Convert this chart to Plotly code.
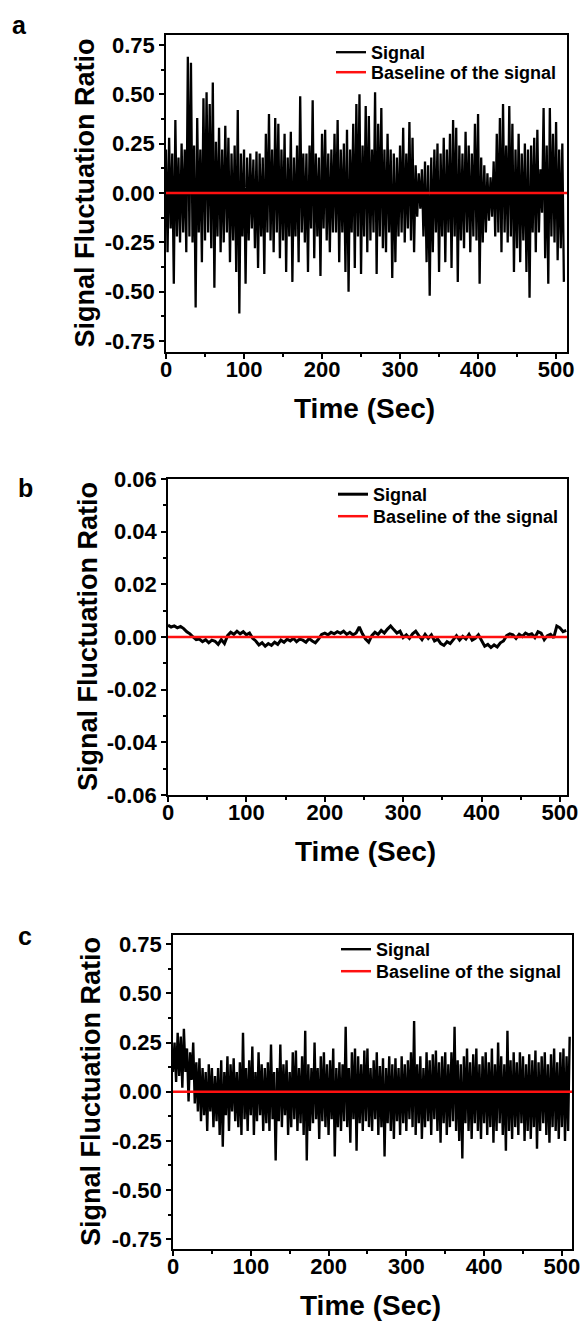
import plotly.graph_objects as go

# ---------------- data ----------------
sample_step_a = 2   # seconds between samples
signal_a = [
    0.22, -0.30, 0.28, -0.18, 0.20, -0.46, 0.37, -0.22, 0.18, -0.25,
    0.25, -0.20, 0.22, -0.30, 0.69, -0.22, 0.66, -0.25, 0.24, -0.58,
    0.38, -0.20, 0.22, -0.35, 0.48, -0.24, 0.51, -0.20, 0.45, -0.28,
    0.56, -0.48, 0.26, -0.22, 0.33, -0.30, 0.22, -0.25, 0.34, -0.20,
    0.28, -0.35, 0.20, -0.24, 0.24, -0.40, 0.42, -0.61, 0.20, -0.22,
    0.22, -0.46, 0.18, -0.24, 0.20, -0.18, 0.17, -0.28, 0.21, -0.38,
    0.20, -0.22, 0.18, -0.41, 0.30, -0.20, 0.40, -0.24, 0.22, -0.30,
    0.38, -0.20, 0.35, -0.33, 0.22, -0.24, 0.30, -0.40, 0.18, -0.22,
    0.31, -0.45, 0.18, -0.22, 0.24, -0.35, 0.49, -0.20, 0.20, -0.25,
    0.20, -0.40, 0.24, -0.18, 0.47, -0.33, 0.20, -0.22, 0.18, -0.42,
    0.30, -0.18, 0.32, -0.24, 0.20, -0.30, 0.22, -0.20, 0.30, -0.20,
    0.37, -0.35, 0.22, -0.20, 0.25, -0.40, 0.32, -0.50, 0.22, -0.20,
    0.35, -0.38, 0.45, -0.22, 0.50, -0.41, 0.24, -0.22, 0.44, -0.30,
    0.39, -0.24, 0.22, -0.20, 0.51, -0.41, 0.35, -0.22, 0.43, -0.28,
    0.22, -0.30, 0.30, -0.20, 0.22, -0.43, 0.20, -0.35, 0.18, -0.22,
    0.24, -0.20, 0.33, -0.25, 0.20, -0.18, 0.36, -0.24, 0.28, -0.30,
    0.14, -0.12, 0.10, -0.08, 0.12, -0.22, 0.16, -0.35, 0.14, -0.52,
    0.18, -0.30, 0.22, -0.20, 0.25, -0.40, 0.20, -0.22, 0.28, -0.35,
    0.22, -0.20, 0.30, -0.38, 0.37, -0.22, 0.33, -0.45, 0.24, -0.24,
    0.20, -0.28, 0.31, -0.20, 0.24, -0.30, 0.20, -0.22, 0.35, -0.24,
    0.40, -0.46, 0.18, -0.25, 0.14, -0.20, 0.10, -0.14, 0.08, -0.12,
    0.16, -0.22, 0.30, -0.20, 0.38, -0.30, 0.45, -0.20, 0.24, -0.25,
    0.44, -0.22, 0.35, -0.40, 0.22, -0.28, 0.30, -0.35, 0.20, -0.24,
    0.25, -0.40, 0.22, -0.53, 0.24, -0.20, 0.28, -0.30, 0.32, -0.20,
    0.12, -0.10, 0.43, -0.33, 0.24, -0.46, 0.43, -0.22, 0.30, -0.25,
    0.36, -0.34, 0.22, -0.28, 0.25, -0.45,
]

sample_step_b = 4
signal_b = [
    0.0045, 0.0038, 0.0042, 0.0035, 0.0040, 0.0032, 0.0020, 0.0012, 0.0000, -0.0010,
    -0.0008, -0.0018, -0.0010, -0.0022, -0.0012, -0.0016, -0.0028, -0.0010, -0.0025, 0.0005,
    0.0018, 0.0010, 0.0022, 0.0012, 0.0020, 0.0008, 0.0015, -0.0005, -0.0015, -0.0030,
    -0.0022, -0.0035, -0.0025, -0.0032, -0.0020, -0.0028, -0.0012, -0.0020, -0.0008, -0.0015,
    -0.0005, -0.0018, -0.0008, -0.0012, -0.0020, -0.0006, -0.0015, -0.0022, -0.0008, 0.0010,
    0.0015, 0.0008, 0.0018, 0.0012, 0.0020, 0.0014, 0.0022, 0.0010, 0.0018, 0.0008,
    0.0015, 0.0038, 0.0012, -0.0008, -0.0020, 0.0005, 0.0018, 0.0010, 0.0025, 0.0015,
    0.0030, 0.0042, 0.0028, 0.0015, 0.0022, -0.0002, 0.0008, -0.0005, 0.0012, 0.0022,
    0.0005, -0.0010, 0.0010, -0.0005, 0.0008, -0.0015, -0.0008, -0.0025, -0.0032, -0.0018,
    -0.0025, -0.0010, 0.0005, -0.0012, 0.0002, -0.0008, 0.0010, -0.0012, -0.0005, 0.0008,
    -0.0015, -0.0035, -0.0028, -0.0040, -0.0030, -0.0038, -0.0022, -0.0015, 0.0005, 0.0012,
    0.0008, -0.0005, 0.0010, 0.0002, 0.0015, 0.0008, 0.0012, -0.0002, 0.0020, 0.0015,
    -0.0010, 0.0005, 0.0010, -0.0003, 0.0042, 0.0035, 0.0020, 0.0025,
]

sample_step_c = 2
signal_c = [
    0.10, 0.25, 0.05, 0.30, 0.08, 0.28, 0.02, 0.32, 0.10, 0.22,
    -0.05, 0.20, 0.06, 0.25, -0.06, 0.15, -0.10, 0.17, -0.15, 0.12,
    -0.12, 0.10, -0.20, 0.14, -0.10, 0.12, -0.18, 0.08, -0.15, 0.12,
    -0.22, 0.16, -0.28, 0.10, -0.12, 0.18, -0.20, 0.14, -0.10, 0.17,
    -0.15, 0.10, -0.18, 0.15, -0.22, 0.30, -0.14, 0.12, -0.20, 0.16,
    -0.12, 0.23, -0.22, 0.10, -0.15, 0.20, -0.12, 0.14, -0.20, 0.12,
    -0.16, 0.15, -0.20, 0.24, -0.14, 0.10, -0.35, 0.12, -0.15, 0.24,
    -0.18, 0.14, -0.12, 0.16, -0.22, 0.10, -0.18, 0.20, -0.14, 0.21,
    -0.20, 0.12, -0.16, 0.18, -0.22, 0.31, -0.35, 0.14, -0.20, 0.12,
    -0.16, 0.25, -0.14, 0.12, -0.24, 0.18, -0.15, 0.20, -0.18, 0.14,
    -0.22, 0.16, -0.14, 0.22, -0.33, 0.12, -0.18, 0.15, -0.20, 0.14,
    -0.15, 0.33, -0.18, 0.12, -0.26, 0.20, -0.14, 0.22, -0.30, 0.18,
    -0.16, 0.14, -0.20, 0.21, -0.15, 0.22, -0.18, 0.12, -0.20, 0.16,
    -0.14, 0.20, -0.22, 0.13, -0.18, 0.17, -0.33, 0.12, -0.16, 0.18,
    -0.20, 0.14, -0.24, 0.17, -0.15, 0.12, -0.22, 0.18, -0.16, 0.14,
    -0.20, 0.16, -0.14, 0.20, -0.18, 0.36, -0.22, 0.14, -0.16, 0.18,
    -0.24, 0.12, -0.18, 0.20, -0.15, 0.16, -0.22, 0.19, -0.14, 0.21,
    -0.20, 0.15, -0.26, 0.18, -0.16, 0.20, -0.22, 0.14, -0.18, 0.20,
    -0.15, 0.33, -0.20, 0.16, -0.25, 0.14, -0.34, 0.18, -0.16, 0.22,
    -0.20, 0.15, -0.24, 0.19, -0.16, 0.22, -0.20, 0.14, -0.24, 0.18,
    -0.16, 0.20, -0.22, 0.15, -0.18, 0.22, -0.26, 0.14, -0.20, 0.25,
    -0.16, 0.18, -0.22, 0.14, -0.30, 0.31, -0.20, 0.16, -0.24, 0.20,
    -0.18, 0.15, -0.22, 0.20, -0.16, 0.18, -0.25, 0.14, -0.20, 0.19,
    -0.24, 0.16, -0.18, 0.21, -0.29, 0.15, -0.20, 0.18, -0.16, 0.20,
    -0.22, 0.14, -0.26, 0.19, -0.18, 0.22, -0.20, 0.15, -0.24, 0.20,
    -0.18, 0.22, -0.25, 0.18, -0.20, 0.28,
]

baseline_value = 0.0
time_end = 514

yticks_ac = [-0.75, -0.50, -0.25, 0.00, 0.25, 0.50, 0.75]
yticktext_ac = ["-0.75", "-0.50", "-0.25", "0.00", "0.25", "0.50", "0.75"]
yminor_ac = [-0.625, -0.375, -0.125, 0.125, 0.375, 0.625]
yticks_b = [-0.06, -0.04, -0.02, 0.00, 0.02, 0.04, 0.06]
yticktext_b = ["-0.06", "-0.04", "-0.02", "0.00", "0.02", "0.04", "0.06"]
yminor_b = [-0.05, -0.03, -0.01, 0.01, 0.03, 0.05]
xticks = [0, 100, 200, 300, 400, 500]
xminor = [50, 150, 250, 350, 450]

legend_names = ["Signal", "Baseline of the signal"]
panel_letters = ["a", "b", "c"]
x_title = "Time (Sec)"
y_title = "Signal Fluctuation Ratio"

# ---------------- layout helpers ----------------
W, H = 583, 1323
FONT = "Liberation Sans, Arial, sans-serif"


def fx(px):
    return px / W


def fy(py):
    return 1 - py / H


panels = [
    dict(box=(166, 567, 35, 352), xr=[0, 514], yr=[-0.805, 0.80],
         sig=signal_a, step=sample_step_a, lw=2.3,
         yt=yticks_ac, ytt=yticktext_ac, ym=yminor_ac,
         leg=(331, 34, 54), ytitle_x=84, letter=(19, 25)),
    dict(box=(168, 567, 479, 795), xr=[0, 509], yr=[-0.06, 0.06],
         sig=signal_b, step=sample_step_b, lw=3.0,
         yt=yticks_b, ytt=yticktext_b, ym=yminor_b,
         leg=(333, 476, 498), ytitle_x=88, letter=(25, 488)),
    dict(box=(173, 572, 935, 1249), xr=[0, 513], yr=[-0.80, 0.797],
         sig=signal_c, step=sample_step_c, lw=2.4,
         yt=yticks_ac, ytt=yticktext_ac, ym=yminor_ac,
         leg=(336, 931, 953), ytitle_x=91, letter=(25, 936)),
]

fig = go.Figure()
annotations = []
layout_axes = {}
legend_count = 0

for i, p in enumerate(panels):
    n = "" if i == 0 else str(i + 1)
    xa, ya = "x" + n, "y" + n
    lg_sig = "legend" + ("" if legend_count == 0 else str(legend_count + 1))
    lg_base = "legend" + str(legend_count + 2)
    legend_count += 2
    times = [k * p["step"] for k in range(len(p["sig"]))]
    fig.add_trace(go.Scatter(
        x=times, y=p["sig"], mode="lines", name=legend_names[0],
        line=dict(color="black", width=p["lw"]),
        xaxis=xa, yaxis=ya, legend=lg_sig, showlegend=True))
    fig.add_trace(go.Scatter(
        x=[0, time_end], y=[baseline_value, baseline_value], mode="lines",
        name=legend_names[1], line=dict(color="#ff1010", width=2.5),
        xaxis=xa, yaxis=ya, legend=lg_base, showlegend=True))

    x0, x1, y0, y1 = p["box"]
    common = dict(showline=True, linecolor="black", linewidth=1.5, mirror=True,
                  ticks="outside", ticklen=5, tickwidth=1.5, tickcolor="black",
                  showgrid=False, zeroline=False, automargin=False,
                  tickfont=dict(family=FONT, size=22, color="black", weight="bold"))
    layout_axes["xaxis" + n] = dict(
        common, domain=[fx(x0), fx(x1)], range=p["xr"], anchor=ya,
        tickmode="array", tickvals=xticks, ticktext=[str(v) for v in xticks],
        ticklabelstandoff=-8,
        minor=dict(tickmode="array", tickvals=xminor, ticklen=3, tickwidth=1.5,
                   tickcolor="black", ticks="outside"))
    layout_axes["yaxis" + n] = dict(
        common, domain=[fy(y1), fy(y0)], range=p["yr"], anchor=xa,
        tickmode="array", tickvals=p["yt"], ticktext=p["ytt"],
        minor=dict(tickmode="array", tickvals=p["ym"], ticklen=3, tickwidth=1.5,
                   tickcolor="black", ticks="outside"))

    for lg, ytop in ((lg_sig, p["leg"][1]), (lg_base, p["leg"][2])):
        layout_axes[lg] = dict(
            x=fx(p["leg"][0]), y=fy(ytop), xanchor="left", yanchor="top",
            bgcolor="rgba(0,0,0,0)", borderwidth=0, tracegroupgap=0,
            font=dict(family=FONT, size=18, color="black", weight="bold"),
            itemwidth=30)

    annotations.append(dict(
        text=x_title, xref="paper", yref="paper",
        x=fx((x0 + x1) / 2 - 2), y=fy(y1 + 56), xanchor="center", yanchor="middle",
        showarrow=False, font=dict(family=FONT, size=28, color="black", weight="bold")))
    annotations.append(dict(
        text=y_title, xref="paper", yref="paper", textangle=-90,
        x=fx(p["ytitle_x"]), y=fy((y0 + y1) / 2), xanchor="center", yanchor="middle",
        showarrow=False, font=dict(family=FONT, size=27, color="black", weight="bold")))
    annotations.append(dict(
        text=panel_letters[i], xref="paper", yref="paper",
        x=fx(p["letter"][0]), y=fy(p["letter"][1]), xanchor="center", yanchor="middle",
        showarrow=False, font=dict(family=FONT, size=25, color="black", weight="bold")))

fig.update_layout(
    width=W, height=H, margin=dict(l=0, r=0, t=0, b=0),
    paper_bgcolor="white", plot_bgcolor="white",
    annotations=annotations, **layout_axes)

fig.write_html("out.html", config={"displayModeBar": False},
               post_script="document.body.style.margin='0px';")
